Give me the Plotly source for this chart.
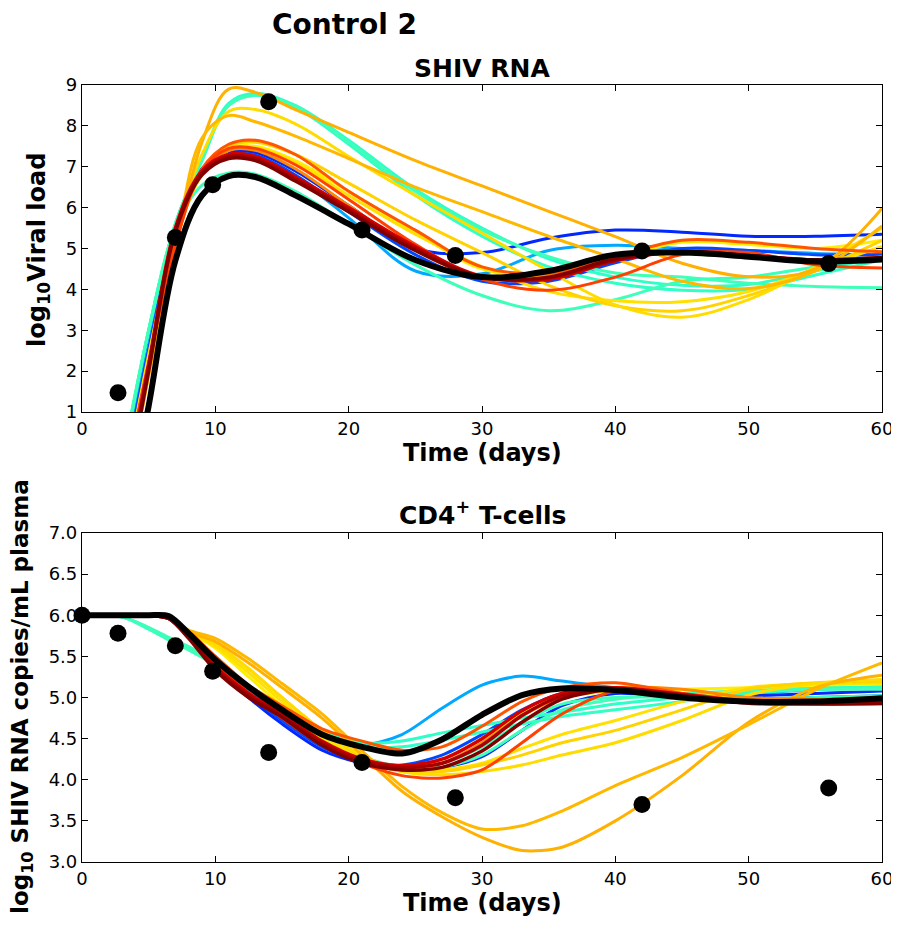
import plotly.graph_objects as go

# ---------------- data ----------------
T_vl = [3, 5, 7, 9, 11, 13, 16, 20, 25, 30, 35, 40, 45, 50, 55, 60]
T_cd4 = [0, 3, 5, 6.5, 8, 10, 12.5, 15, 18, 21, 24, 27, 30, 33, 36, 40, 45, 50, 55, 60]

obs_vl_t = [2.7, 7, 9.8, 14, 21, 28, 42, 56]
obs_vl = [1.47, 5.27, 6.56, 8.59, 5.45, 4.83, 4.94, 4.63]
obs_cd4_t = [0, 2.7, 7, 9.8, 14, 21, 28, 42, 56]
obs_cd4 = [6.0, 5.78, 5.63, 5.32, 4.33, 4.21, 3.78, 3.70, 3.90]

vl_black = [-2.3, 1.15, 4.7, 6.3, 6.77, 6.75, 6.3, 5.6, 4.72, 4.3, 4.45, 4.85, 4.9, 4.8, 4.68, 4.73]
cd4_black = [6.0, 6.0, 6.0, 5.99, 5.78, 5.46, 5.13, 4.85, 4.55, 4.4, 4.32, 4.49, 4.79, 5.03, 5.11, 5.09, 5.0, 4.95, 4.95, 4.99]

vl_light_blue = [-0.5, 2.7, 5.4, 6.9, 7.3, 7.25, 6.75, 5.75, 4.45, 4.38, 4.95, 5.08, 5.0, 4.95, 4.88, 4.85]
cd4_light_blue = [6.0, 6.0, 6.0, 5.97, 5.78, 5.44, 5.1, 4.8, 4.5, 4.42, 4.55, 4.87, 5.15, 5.26, 5.2, 5.12, 5.05, 5.05, 5.1, 5.12]
vl_blue_a = [-0.8, 2.5, 5.3, 6.95, 7.35, 7.35, 6.9, 6.05, 5.0, 4.9, 5.25, 5.45, 5.4, 5.3, 5.3, 5.35]
cd4_blue_a = [6.0, 6.0, 6.0, 5.97, 5.75, 5.38, 5.0, 4.68, 4.36, 4.2, 4.12, 4.15, 4.28, 4.6, 4.9, 5.05, 5.0, 5.02, 5.05, 5.08]
vl_blue_b = [-0.8, 2.5, 5.3, 6.95, 7.3, 7.28, 6.8, 5.9, 4.85, 4.2, 4.2, 4.65, 5.0, 4.95, 4.85, 4.85]
cd4_blue_b = [6.0, 6.0, 6.0, 5.97, 5.76, 5.4, 5.03, 4.72, 4.4, 4.22, 4.18, 4.3, 4.55, 4.85, 5.05, 5.1, 5.0, 4.98, 5.0, 5.02]
vl_aqua_a = [-0.3, 3.0, 5.6, 7.2, 8.55, 8.8, 8.5, 7.65, 6.45, 5.5, 4.75, 4.3, 4.1, 4.12, 4.45, 4.8]
cd4_aqua_a = [6.0, 5.98, 5.85, 5.72, 5.6, 5.42, 5.15, 4.88, 4.6, 4.45, 4.47, 4.57, 4.66, 4.75, 4.82, 4.92, 5.0, 5.08, 5.12, 5.13]
vl_aqua_b = [-0.3, 3.0, 5.6, 7.15, 8.5, 8.75, 8.45, 7.55, 6.3, 5.3, 4.55, 4.15, 3.98, 4.0, 4.35, 4.72]
cd4_aqua_b = [6.0, 5.98, 5.83, 5.7, 5.58, 5.4, 5.12, 4.85, 4.55, 4.4, 4.4, 4.48, 4.58, 4.68, 4.77, 4.85, 4.95, 5.05, 5.1, 5.12]
vl_aqua_flat = [-0.3, 3.0, 5.6, 7.2, 8.5, 8.75, 8.48, 7.6, 6.4, 5.45, 4.8, 4.4, 4.3, 4.15, 4.07, 4.04]
cd4_aqua_flat = [6.0, 5.98, 5.84, 5.71, 5.58, 5.4, 5.12, 4.83, 4.5, 4.28, 4.15, 4.15, 4.3, 4.6, 4.85, 4.98, 5.05, 5.08, 5.1, 5.1]
vl_aqua_low = [-0.2, 3.0, 5.5, 6.55, 6.85, 6.82, 6.4, 5.6, 4.6, 3.85, 3.48, 3.75, 4.2, 4.3, 4.55, 4.75]
cd4_aqua_low = [6.0, 5.98, 5.85, 5.73, 5.62, 5.43, 5.15, 4.86, 4.5, 4.28, 4.15, 4.2, 4.4, 4.7, 4.92, 5.0, 5.0, 4.98, 5.0, 5.02]
vl_yellow_top = [-1.0, 2.3, 5.2, 6.85, 7.45, 7.5, 7.15, 6.4, 5.4, 4.5, 4.3, 4.75, 5.15, 5.1, 5.0, 5.2]
cd4_yellow_top = [6.0, 6.0, 6.0, 5.97, 5.8, 5.6, 5.25, 4.9, 4.5, 4.25, 4.15, 4.25, 4.5, 4.8, 5.0, 5.08, 5.1, 5.12, 5.15, 5.17]
vl_yellow_mid2 = [-1.0, 2.3, 5.2, 6.8, 7.4, 7.45, 7.1, 6.3, 5.35, 4.55, 3.95, 3.72, 3.7, 3.95, 4.5, 5.05]
cd4_yellow_mid2 = [6.0, 6.0, 6.0, 5.97, 5.8, 5.62, 5.3, 4.95, 4.55, 4.25, 4.1, 4.12, 4.2, 4.38, 4.55, 4.72, 4.95, 5.12, 5.17, 5.18]
vl_yellow_mid = [-1.0, 2.3, 5.2, 6.9, 7.5, 7.6, 7.3, 6.6, 5.7, 4.9, 4.1, 3.6, 3.48, 3.85, 4.45, 5.2]
cd4_yellow_mid = [6.0, 6.0, 6.0, 5.97, 5.8, 5.65, 5.35, 5.0, 4.6, 4.28, 4.1, 4.1, 4.18, 4.3, 4.45, 4.6, 4.85, 5.1, 5.18, 5.2]
vl_yellow_hi = [-1.0, 2.4, 5.3, 7.3, 8.35, 8.4, 8.05, 7.25, 6.3, 5.38, 4.45, 3.62, 3.32, 3.75, 4.55, 5.5]
cd4_yellow_hi = [6.0, 6.0, 6.0, 5.97, 5.8, 5.65, 5.35, 5.0, 4.6, 4.3, 4.1, 4.06, 4.1, 4.18, 4.3, 4.45, 4.72, 5.03, 5.17, 5.22]
vl_gold_hi = [-1.6, 1.9, 5.0, 7.6, 8.9, 8.82, 8.4, 7.84, 7.15, 6.53, 5.91, 5.29, 4.64, 4.31, 4.5, 5.98]
cd4_gold_hi = [6.0, 6.0, 6.0, 5.97, 5.8, 5.68, 5.42, 5.12, 4.75, 4.3, 3.86, 3.55, 3.3, 3.14, 3.18, 3.5, 4.05, 4.7, 5.12, 5.27]
vl_gold2 = [-1.5, 1.9, 5.0, 7.7, 8.25, 8.1, 7.75, 7.2, 6.5, 5.9, 5.3, 4.75, 4.2, 4.02, 4.45, 5.55]
cd4_gold2 = [6.0, 6.0, 6.0, 5.97, 5.82, 5.72, 5.47, 5.17, 4.8, 4.35, 3.92, 3.6, 3.4, 3.44, 3.62, 3.93, 4.27, 4.67, 5.09, 5.42]
vl_orange = [-1.0, 2.2, 5.1, 6.85, 7.4, 7.4, 6.95, 6.05, 4.95, 4.3, 4.35, 4.85, 4.95, 4.8, 4.7, 4.8]
cd4_orange = [6.0, 6.0, 6.0, 5.97, 5.8, 5.5, 5.12, 4.8, 4.45, 4.25, 4.12, 4.2, 4.45, 4.78, 5.0, 5.12, 5.1, 5.0, 4.98, 4.98]
vl_orange_red_a = [-1.0, 2.2, 5.1, 6.95, 7.55, 7.65, 7.3, 6.4, 5.45, 4.55, 4.4, 4.8, 5.2, 5.15, 5.0, 4.92]
cd4_orange_red_a = [6.0, 6.0, 6.0, 5.97, 5.8, 5.5, 5.15, 4.9, 4.62, 4.47, 4.36, 4.4, 4.65, 4.95, 5.12, 5.18, 5.05, 4.96, 4.95, 4.96]
vl_orange_red_b = [-1.0, 2.2, 5.1, 6.9, 7.45, 7.45, 7.05, 6.2, 5.1, 4.25, 3.98, 4.3, 4.85, 4.9, 4.6, 4.52]
cd4_orange_red_b = [6.0, 6.0, 6.0, 5.97, 5.78, 5.42, 5.06, 4.75, 4.42, 4.2, 4.05, 4.02, 4.12, 4.45, 4.8, 5.08, 5.05, 4.95, 4.92, 4.92]
vl_red = [-1.3, 2.15, 5.5, 6.9, 7.3, 7.25, 6.75, 6.0, 5.05, 4.32, 4.25, 4.7, 4.93, 4.83, 4.72, 4.75]
cd4_red = [6.0, 6.0, 6.0, 5.96, 5.75, 5.38, 5.05, 4.8, 4.47, 4.25, 4.17, 4.25, 4.5, 4.84, 5.05, 5.12, 5.04, 4.95, 4.94, 4.95]
vl_dark_red_b = [-1.4, 2.1, 5.45, 6.85, 7.25, 7.2, 6.7, 5.95, 5.0, 4.3, 4.28, 4.72, 4.92, 4.82, 4.72, 4.76]
cd4_dark_red_b = [6.0, 6.0, 6.0, 5.96, 5.74, 5.36, 5.03, 4.78, 4.45, 4.23, 4.15, 4.2, 4.42, 4.78, 5.02, 5.11, 5.03, 4.94, 4.93, 4.94]
vl_dark_red_a = [-1.5, 2.0, 5.4, 6.8, 7.2, 7.15, 6.65, 5.9, 4.95, 4.3, 4.3, 4.75, 4.9, 4.8, 4.72, 4.78]
cd4_dark_red_a = [6.0, 6.0, 6.0, 5.96, 5.72, 5.33, 5.0, 4.76, 4.42, 4.2, 4.12, 4.15, 4.35, 4.7, 4.98, 5.1, 5.02, 4.93, 4.92, 4.93]

x_ticks = [0, 10, 20, 30, 40, 50, 60]
vl_ticks = [1, 2, 3, 4, 5, 6, 7, 8, 9]
cd4_ticks = [3.0, 3.5, 4.0, 4.5, 5.0, 5.5, 6.0, 6.5, 7.0]

# (color, width, viral-load series, CD4 series) in drawing order
curves = [
    ("#00a8ff", 3, vl_light_blue, cd4_light_blue),
    ("#0028ff", 3, vl_blue_a, cd4_blue_a),
    ("#0048ff", 3, vl_blue_b, cd4_blue_b),
    ("#2effc8", 3, vl_aqua_a, cd4_aqua_a),
    ("#30ffc6", 3, vl_aqua_b, cd4_aqua_b),
    ("#40ffb8", 3, vl_aqua_flat, cd4_aqua_flat),
    ("#3cffba", 3, vl_aqua_low, cd4_aqua_low),
    ("#ffee00", 3, vl_yellow_top, cd4_yellow_top),
    ("#ffe000", 3, vl_yellow_mid2, cd4_yellow_mid2),
    ("#ffd200", 3, vl_yellow_mid, cd4_yellow_mid),
    ("#ffdc00", 3, vl_yellow_hi, cd4_yellow_hi),
    ("#ffb000", 3, vl_gold_hi, cd4_gold_hi),
    ("#ffb800", 3, vl_gold2, cd4_gold2),
    ("#ff8800", 3, vl_orange, cd4_orange),
    ("#ff5500", 3, vl_orange_red_a, cd4_orange_red_a),
    ("#ff4000", 3, vl_orange_red_b, cd4_orange_red_b),
    ("#d40000", 3.5, vl_red, cd4_red),
    ("#a80000", 3.5, vl_dark_red_b, cd4_dark_red_b),
    ("#800000", 3.5, vl_dark_red_a, cd4_dark_red_a),
]

# ---------------- figure ----------------
fig = go.Figure()
for color, w, vl, cd4 in curves:
    fig.add_trace(go.Scatter(x=T_vl, y=vl, mode="lines",
                             line=dict(color=color, width=w, shape="spline", smoothing=1.0),
                             xaxis="x", yaxis="y", showlegend=False, hoverinfo="skip"))
    fig.add_trace(go.Scatter(x=T_cd4, y=cd4, mode="lines",
                             line=dict(color=color, width=w, shape="spline", smoothing=0.8),
                             xaxis="x2", yaxis="y2", showlegend=False, hoverinfo="skip"))

fig.add_trace(go.Scatter(x=T_vl, y=vl_black, mode="lines",
                         line=dict(color="black", width=6, shape="spline", smoothing=1.0),
                         xaxis="x", yaxis="y", showlegend=False))
fig.add_trace(go.Scatter(x=T_cd4, y=cd4_black, mode="lines",
                         line=dict(color="black", width=6, shape="spline", smoothing=0.8),
                         xaxis="x2", yaxis="y2", showlegend=False))
fig.add_trace(go.Scatter(x=obs_vl_t, y=obs_vl, mode="markers", marker=dict(color="black", size=17),
                         xaxis="x", yaxis="y", showlegend=False, cliponaxis=False))
fig.add_trace(go.Scatter(x=obs_cd4_t, y=obs_cd4, mode="markers", marker=dict(color="black", size=17),
                         xaxis="x2", yaxis="y2", showlegend=False, cliponaxis=False))

FONT = "DejaVu Sans"
axis_common = dict(showline=True, linecolor="black", linewidth=1.2, mirror="ticks", ticks="inside",
                   ticklen=6, tickcolor="black", showgrid=False, zeroline=False, automargin=False,
                   tickfont=dict(family=FONT, size=18, color="black"))

top_dom = [(862 - 412) / 777, 1.0]
bot_dom = [0.0, (862 - 533) / 777]

# the page body adds an 8px offset, so the figure is 8px smaller with shifted margins
fig.update_layout(
    width=891, height=930,
    margin=dict(l=74, r=17, t=77, b=76),
    paper_bgcolor="white", plot_bgcolor="white",
    font=dict(family=FONT, color="black"),
    xaxis=dict(range=[0, 60], tickvals=x_ticks, domain=[0, 1], anchor="y", **axis_common),
    yaxis=dict(range=[1, 9], tickvals=vl_ticks, domain=top_dom, anchor="x", **axis_common),
    xaxis2=dict(range=[0, 60], tickvals=x_ticks, domain=[0, 1], anchor="y2", **axis_common),
    yaxis2=dict(range=[3, 7], tickvals=cd4_ticks, tickformat=".1f", domain=bot_dom, anchor="x2", **axis_common),
)


def py(px):
    return (862 - px) / 777


def px_x(px):
    return (px - 82) / 800


annots = [
    dict(text="<b>Control 2</b>", x=px_x(344), y=py(25), size=28, angle=0),
    dict(text="<b>SHIV RNA</b>", x=0.5, y=py(69), size=25, angle=0),
    dict(text="<b>CD4<sup>+</sup> T-cells</b>", x=0.5, y=py(513), size=25, angle=0),
    dict(text="<b>Time (days)</b>", x=0.5, y=py(453), size=24, angle=0),
    dict(text="<b>Time (days)</b>", x=0.5, y=py(903), size=24, angle=0),
    dict(text="<b>log<sub>10</sub>Viral load</b>", x=px_x(38), y=py(250), size=24, angle=-90),
    dict(text="<b>log<sub>10</sub> SHIV RNA copies/mL plasma</b>", x=px_x(22), y=py(697), size=23, angle=-90),
]
for a in annots:
    fig.add_annotation(text=a["text"], x=a["x"], y=a["y"], xref="paper", yref="paper",
                       xanchor="center", yanchor="middle", showarrow=False, textangle=a["angle"],
                       font=dict(family=FONT, size=a["size"], color="black"))

fig.write_html("out.html")
